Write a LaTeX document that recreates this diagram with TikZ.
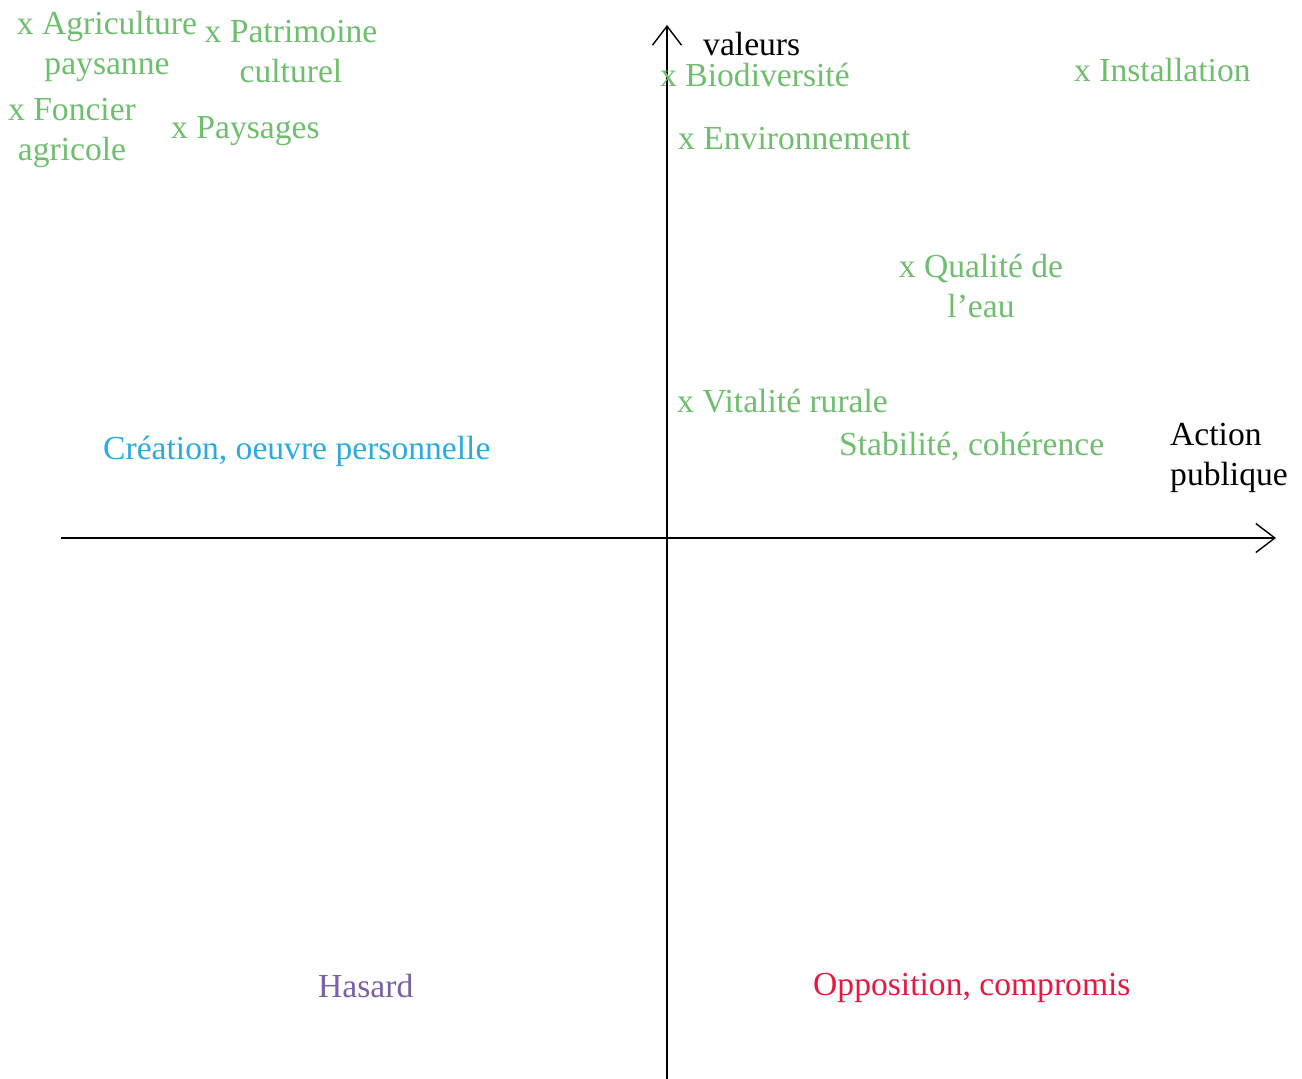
\documentclass[tikz,border=0pt]{standalone}
\usepackage{fontspec}
\setmainfont{Liberation Serif}
\usetikzlibrary{arrows.meta}
\definecolor{lgreen}{RGB}{110,190,110}
\definecolor{lblue}{RGB}{41,171,226}
\definecolor{lpurple}{RGB}{122,96,168}
\definecolor{lred}{RGB}{232,23,63}
\tikzset{
  lbl/.style={inner sep=0pt, align=center, font=\fontsize{33.6}{40}\selectfont},
  grn/.style={lbl, text=lgreen},
  axis/.style={line width=1.4pt, -{Straight Barb[length=19pt,width=29pt,line width=1.4pt]}}
}
\begin{document}
\begin{tikzpicture}[x=1pt,y=-1pt]
\useasboundingbox (0,0) rectangle (1302,1079);
\coordinate (xs) at (61,538);
\coordinate (xe) at (1276,538);
\coordinate (ys) at (667,1079);
\coordinate (ye) at (667,25);
\draw[axis] (xs) -- (xe);
\draw[axis] (ys) -- (ye);
\node[lbl, anchor=west] (val) at (703,44) {valeurs};
\node[lbl, anchor=west, align=left] (act) at (1170,458) {Action\\publique};
\node[grn, anchor=west] (bio) at (660,75) {x Biodiversité};
\node[grn, anchor=west] (ins) at (1074,70) {x Installation};
\node[grn, anchor=west] (env) at (678,139) {x Environnement};
\node[grn] (eau) at (981,286) {x Qualité de\\l’eau};
\node[grn, anchor=west] (vit) at (677,401) {x Vitalité rurale};
\node[grn, anchor=west] (sta) at (839,446) {Stabilité, cohérence};
\node[grn] (agr) at (107,46) {x Agriculture\\paysanne};
\node[grn] (pat) at (291,52) {x Patrimoine\\culturel};
\node[grn] (fon) at (72,133) {x Foncier\\agricole};
\node[grn, anchor=west] (pay) at (171,131) {x Paysages};
\node[lbl, text=lblue, anchor=west] (cre) at (103,451) {Création, oeuvre personnelle};
\node[lbl, text=lpurple, anchor=west] (has) at (318,986) {Hasard};
\node[lbl, text=lred, anchor=west] (opp) at (813,988) {Opposition, compromis};
\end{tikzpicture}
\end{document}
